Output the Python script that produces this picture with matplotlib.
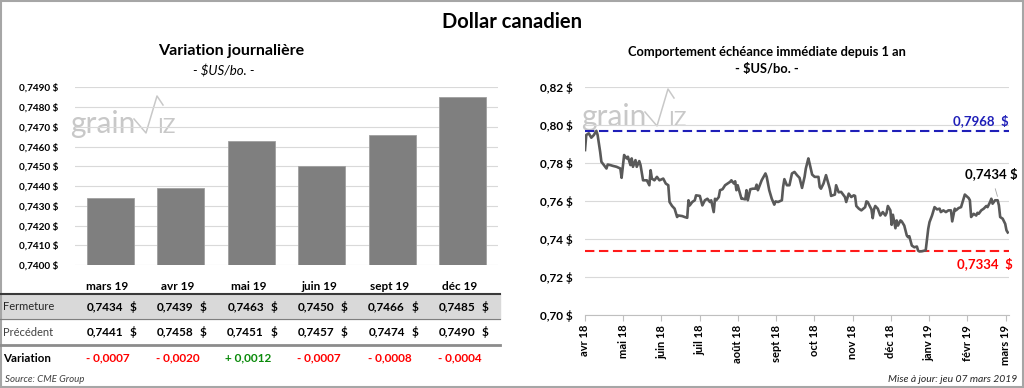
import matplotlib
matplotlib.use('Agg')
import matplotlib.pyplot as plt
import numpy as np
from matplotlib import transforms
from matplotlib.lines import Line2D
from matplotlib.patches import Rectangle
from matplotlib.ticker import FuncFormatter

plt.rcParams['font.family'] = ['Lato', 'DejaVu Sans']

# --- variation journaliere (tableau + barres) ---
echeances = ['mars 19', 'avr 19', 'mai 19', 'juin 19', 'sept 19', 'déc 19']
fermeture = [0.7434, 0.7439, 0.7463, 0.7450, 0.7466, 0.7485]
precedent = [0.7441, 0.7458, 0.7451, 0.7457, 0.7474, 0.7490]
variation = [-0.0007, -0.0020, 0.0012, -0.0007, -0.0008, -0.0004]

# --- echeance immediate depuis 1 an (jours depuis le 6 avril 2018) ---
jours = [0, 1, 3, 5, 7, 9, 10, 12, 13, 15, 17, 18, 20, 22, 25, 28, 29, 31, 33, 34,
         36, 37, 38, 40, 41, 43, 44, 46, 49, 51, 52, 53, 55, 57, 59, 62, 64, 66, 67,
         69, 71, 73, 74, 77, 79, 81, 82, 83, 85, 87, 88, 91, 93, 95, 97, 99, 100, 102,
         103, 104, 106, 107, 109, 111, 113, 115, 116, 118, 119, 120, 121, 124, 125, 127,
         128, 129, 131, 133, 135, 136, 137, 140, 143, 144, 146, 148, 150, 151, 153, 156,
         157, 158, 160, 162, 164, 166, 168, 170, 172, 174, 175, 177, 178, 180, 182, 185,
         186, 187, 189, 191, 194, 195, 198, 199, 201, 203, 206, 207, 209, 211, 213, 214,
         215, 217, 219, 222, 223, 224, 227, 228, 229, 230, 232, 234, 236, 238, 239, 240,
         242, 243, 244, 246, 247, 248, 250, 251, 253, 255, 256, 257, 259, 261, 263, 264,
         265, 267, 269, 270, 272, 273, 275, 277, 279, 281, 282, 284, 286, 288, 290, 291,
         293, 294, 296, 298, 300, 301, 304, 305, 306, 308, 310, 311, 312, 314, 316, 318,
         319, 321, 322, 323, 325, 327, 328, 329, 331, 333, 334, 335]
cours = [0.7867, 0.7946, 0.7955, 0.7932, 0.7946, 0.7968, 0.7946, 0.7858, 0.7805, 0.7788,
         0.7770, 0.7791, 0.7788, 0.7784, 0.7779, 0.7770, 0.7721, 0.7841, 0.7823, 0.7832,
         0.7788, 0.7823, 0.7779, 0.7814, 0.7779, 0.7809, 0.7788, 0.7708, 0.7708, 0.7682,
         0.7761, 0.7717, 0.7708, 0.7726, 0.7708, 0.7717, 0.7691, 0.7682, 0.7594,
         0.7573, 0.7559, 0.7515, 0.7523, 0.7520, 0.7515, 0.7511, 0.7603, 0.7576, 0.7594,
         0.7603, 0.7629, 0.7626, 0.7576, 0.7603, 0.7611, 0.7594, 0.7603, 0.7541, 0.7611,
         0.7603, 0.7620, 0.7656, 0.7661, 0.7682, 0.7691, 0.7700, 0.7708, 0.7691, 0.7703,
         0.7656, 0.7682, 0.7611, 0.7611, 0.7608, 0.7656, 0.7603, 0.7661, 0.7664,
         0.7664, 0.7685, 0.7656, 0.7708, 0.7744, 0.7726, 0.7656, 0.7611, 0.7580, 0.7597,
         0.7594, 0.7603, 0.7673, 0.7714, 0.7682, 0.7682, 0.7744, 0.7752, 0.7735, 0.7721,
         0.7668, 0.7726, 0.7770, 0.7823, 0.7796, 0.7738, 0.7726, 0.7726, 0.7673, 0.7664,
         0.7691, 0.7735, 0.7664, 0.7626, 0.7633, 0.7682, 0.7645,
         0.7647, 0.7620, 0.7594, 0.7638, 0.7620, 0.7629, 0.7626, 0.7573, 0.7559, 0.7550,
         0.7567, 0.7597, 0.7594, 0.7555, 0.7509, 0.7555, 0.7573, 0.7559, 0.7523, 0.7541,
         0.7523, 0.7537, 0.7573, 0.7550, 0.7474, 0.7527, 0.7456, 0.7497, 0.7470, 0.7497,
         0.7492, 0.7470, 0.7418, 0.7409, 0.7414, 0.7365, 0.7356, 0.7360, 0.7338, 0.7334,
         0.7335, 0.7338,
         0.7340, 0.7453, 0.7488, 0.7523, 0.7567, 0.7555, 0.7559, 0.7541, 0.7550, 0.7541,
         0.7550, 0.7550, 0.7492, 0.7559, 0.7550, 0.7562, 0.7567, 0.7611, 0.7633, 0.7615,
         0.7603, 0.7515, 0.7532, 0.7523, 0.7537, 0.7532, 0.7550, 0.7559, 0.7573, 0.7567,
         0.7594, 0.7611, 0.7585, 0.7603, 0.7603, 0.7576, 0.7515, 0.7506, 0.7479, 0.7445,
         0.7434]
mois = ['avr 18', 'mai 18', 'juin 18', 'juil 18', 'août 18', 'sept 18', 'oct 18',
        'nov 18', 'déc 18', 'janv 19', 'févr 19', 'mars 19']
haut_an = 0.7968
bas_an = 0.7334

W, H = 1024, 388


def virgule(v, dec):
    return f"{v:.{dec}f}".replace('.', ',')


def fx(x):
    return x / W


def fy(y):
    return 1 - y / H


fig = plt.figure(figsize=(W / 100, H / 100), dpi=100)

# cadre
fig.add_artist(Rectangle((0.001, 0.002), 0.998, 0.996, transform=fig.transFigure,
                         fill=False, edgecolor='#a6a6a6', lw=1.5))

fig.text(fx(512), fy(22), 'Dollar canadien', ha='center', va='center',
         fontsize=14.5, fontweight='bold')


def logo(x0, base):
    # filigrane grainWiz
    c = '#c8c8c8'
    fig.text(fx(x0), fy(base), 'grain', fontsize=21.5, color=c,
             va='baseline', ha='left', zorder=-1)
    xs = [x0 + 64, x0 + 76, x0 + 87, x0 + 93]
    ys = [base - 14, base, base - 37, base - 28]
    fig.add_artist(Line2D([fx(x) for x in xs], [fy(y) for y in ys], color=c, lw=1.1,
                          zorder=-1))
    fig.text(fx(x0 + 87), fy(base), 'IZ', fontsize=15, color=c,
             va='baseline', ha='left', zorder=-1)


# ---------------- gauche : variation journaliere ----------------
fig.text(fx(231), fy(51), 'Variation journalière', ha='center', va='center',
         fontsize=11.5, fontweight='bold')
fig.text(fx(224), fy(71), '- $US/bo. -', ha='center', va='center',
         fontsize=9.5, fontstyle='italic')

ax1 = fig.add_axes([fx(75), fy(265), fx(498) - fx(75), fy(87.3) - fy(265)])
ax1.set_facecolor('none')
x = np.arange(len(echeances))
ax1.bar(x, fermeture, width=0.66, color='#7f7f7f', edgecolor='#a0a0a0', lw=0.6, zorder=2)
ax1.set_xlim(-0.5, len(echeances) - 0.5)
ax1.set_ylim(0.7400, 0.7490)
ax1.set_yticks(np.linspace(0.7400, 0.7490, 10))
ax1.yaxis.set_major_formatter(FuncFormatter(lambda v, p: virgule(v, 4) + ' $'))
ax1.grid(axis='y', color='#d9d9d9', lw=0.8, zorder=0)
ax1.set_xticks([])
ax1.tick_params(length=0, labelsize=7.2, pad=12)
for s in ax1.spines.values():
    s.set_visible(False)
for lab in ax1.get_yticklabels():
    lab.set_fontweight('bold')
logo(70, 133)

# tableau sous le graphique
tr = transforms.blended_transform_factory(ax1.transData, fig.transFigure)
fig.add_artist(Rectangle((0, fy(319.3)), fx(500), fy(294) - fy(319.3),
                         transform=fig.transFigure, color='#d9d9d9', zorder=-2))
fig.add_artist(Line2D([0, fx(500)], [fy(294), fy(294)], color='#3a3a3a', lw=1.5))
fig.add_artist(Line2D([0, fx(500)], [fy(319.3), fy(319.3)], color='#7f7f7f', lw=0.8))
fig.add_artist(Line2D([0, fx(500)], [fy(344.5), fy(344.5)], color='#8c8c8c', lw=2))

fig.text(fx(3), fy(306.7), 'Fermeture', va='center', fontsize=8, color='#262626')
fig.text(fx(3), fy(332.3), 'Précédent', va='center', fontsize=8, color='#404040')
fig.text(fx(3), fy(358.3), 'Variation', va='center', fontsize=8.3, fontweight='bold')
for i, e in enumerate(echeances):
    fig.text(i - 0.04, fy(286.7), e, transform=tr, ha='center', va='center',
             fontsize=8.5, fontweight='bold')
    for val, yy in ((fermeture[i], 306.7), (precedent[i], 332.3)):
        fig.text(i + 0.18, fy(yy), virgule(val, 4), transform=tr, ha='right',
                 va='center', fontsize=8.5, fontweight='bold')
        fig.text(i + 0.32, fy(yy), '$', transform=tr, ha='center', va='center',
                 fontsize=8.5, fontweight='bold')
    v = variation[i]
    signe = '+ ' if v > 0 else '- '
    fig.text(i - 0.04, fy(358.3), signe + virgule(abs(v), 4), transform=tr,
             ha='center', va='center', fontsize=8.5, fontweight='bold',
             color='#0a8a0a' if v > 0 else '#ff0000')

fig.text(fx(5), fy(379), 'Source: CME Group', va='center', fontsize=7,
         fontstyle='italic', color='#404040')

# ---------------- droite : echeance immediate ----------------
fig.text(fx(767), fy(51.5), 'Comportement échéance immédiate depuis 1 an',
         ha='center', va='center', fontsize=9.3, fontweight='bold')
fig.text(fx(767), fy(69.3), '- $US/bo. -', ha='center', va='center',
         fontsize=9.3, fontweight='bold')

ax2 = fig.add_axes([fx(585), fy(315), fx(1009) - fx(585), fy(86.7) - fy(315)])
ax2.set_facecolor('none')
ax2.plot(jours, cours, color='#595959', lw=1.9, zorder=3, solid_joinstyle='round')
ax2.axhline(haut_an, color='#1f1fb8', lw=1.5, ls=(0, (4.5, 2.2)), zorder=2)
ax2.axhline(bas_an, color='#ff1a1a', lw=1.5, ls=(0, (4.5, 2.2)), zorder=2)
ax2.set_xlim(0, 336)
ax2.set_ylim(0.70, 0.82)
ax2.set_yticks(np.linspace(0.70, 0.82, 7))
ax2.yaxis.set_major_formatter(FuncFormatter(lambda v, p: virgule(v, 2) + ' $'))
ax2.set_xticks(np.arange(len(mois)) * 30.3)
ax2.set_xticklabels(mois, rotation=90, fontsize=8, fontweight='bold')
ax2.grid(axis='y', color='#d9d9d9', lw=0.8, zorder=0)
ax2.tick_params(axis='y', length=0, labelsize=8.5, pad=9)
ax2.tick_params(axis='x', length=4, color='#bfbfbf', width=0.8, pad=3)
for lab in ax2.get_yticklabels():
    lab.set_fontweight('bold')
for k in ('left', 'right', 'top'):
    ax2.spines[k].set_visible(False)
ax2.spines['bottom'].set_color('#bfbfbf')

both = (ax2.transAxes, ax2.transData)
ax2.annotate(virgule(haut_an, 4) + '  $', xy=(1.0, haut_an), xycoords=both,
             xytext=(0, 3), textcoords='offset points', ha='right', va='bottom',
             fontsize=9.5, fontweight='bold', color='#1f1fb8')
ax2.annotate(virgule(bas_an, 4) + '  $', xy=(1.0, bas_an), xycoords=both,
             xytext=(3, -4), textcoords='offset points', ha='right', va='top',
             fontsize=9.5, fontweight='bold', color='#ff0000')
ax2.annotate(virgule(cours[-1], 4) + ' $', xy=(jours[-1], cours[-1]),
             xytext=(-12, 42), textcoords='offset points', ha='center', va='center',
             fontsize=9.5, fontweight='bold',
             arrowprops=dict(arrowstyle='-', color='#a6a6a6', lw=0.6,
                             shrinkA=4, shrinkB=27))
logo(581, 126)

fig.text(fx(1017), fy(379), 'Mise à jour: jeu 07 mars 2019', ha='right', va='center',
         fontsize=7.5, fontstyle='italic', color='#262626')

fig.savefig('out.png', dpi=100)
